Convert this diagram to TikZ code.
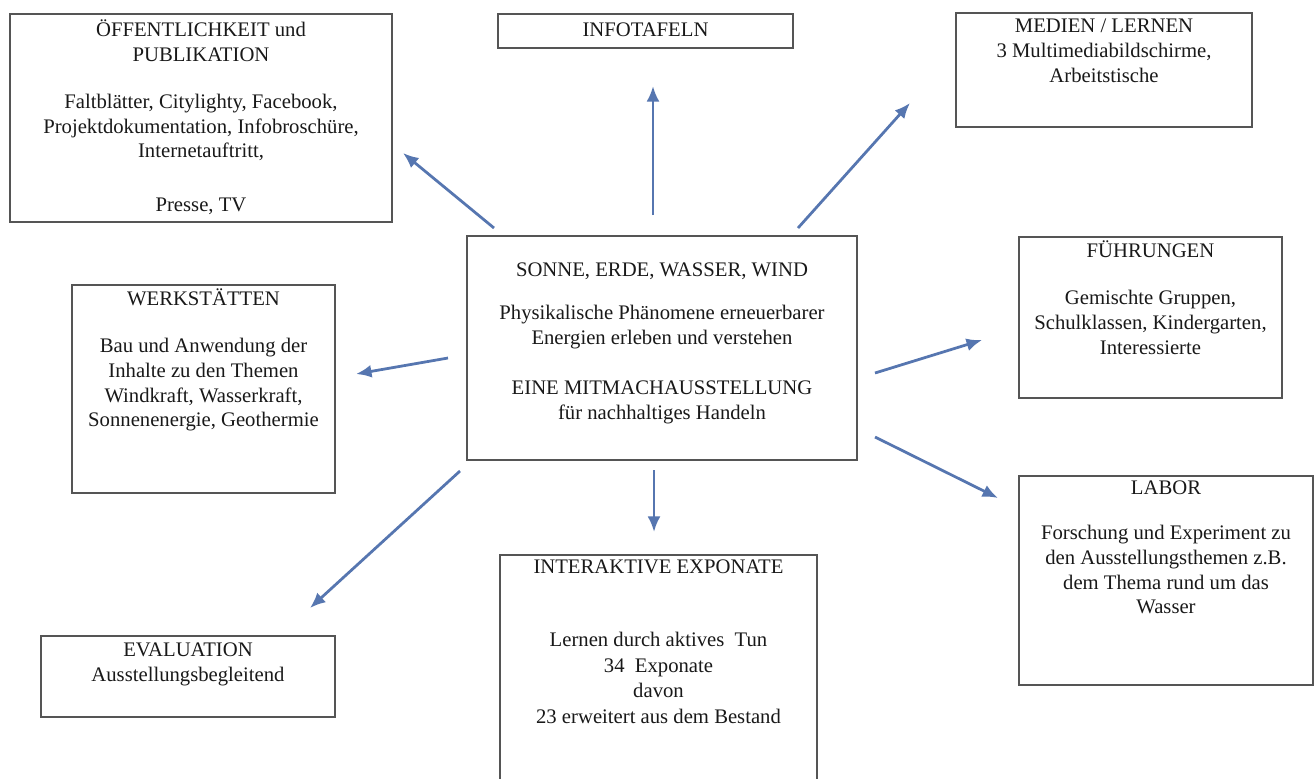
\documentclass[tikz,border=0pt]{standalone}
\usepackage{fontspec}
\setmainfont{Liberation Serif}
\usetikzlibrary{arrows.meta,fit}
\definecolor{arrowblue}{RGB}{86,118,176}
\definecolor{boxgray}{RGB}{85,85,85}
\definecolor{txt}{RGB}{25,25,25}
\begin{document}
\begin{tikzpicture}[x=0.58pt,y=-0.58pt,
  box/.style={draw=boxgray, line width=0.75pt, rectangle, inner sep=0pt},
  tb/.style={align=center, anchor=north, inner sep=0pt, text=txt,
    font=\fontsize{12}{14.3}\selectfont, execute at begin node={\rule{0pt}{10pt}}},
  conn/.style={draw=arrowblue, line width=1.6pt, -{Latex[length=9pt,width=7.5pt]}}]
\fill[white] (0,0) rectangle (1316,778);
\useasboundingbox (0,0) rectangle (1316,778);

% boxes
\node[box, fit={(10,14) (392,222)}] (oef) {};
\node[box, fit={(498,14) (793,48)}] (info) {};
\node[box, fit={(956,13) (1252,127)}] (med) {};
\node[box, fit={(467,236) (857,460)}] (ctr) {};
\node[box, fit={(72,285) (335,493)}] (werk) {};
\node[box, fit={(1019,237) (1282,398)}] (fuehr) {};
\node[box, fit={(1019,476) (1313,685)}] (labor) {};
\node[box, fit={(41,636) (335,717)}] (eval) {};
\node[box, fit={(500,555) (817,810)}] (inter) {};

% texts
\node[tb] (toef) at (201,19.8) {ÖFFENTLICHKEIT und\\PUBLIKATION\\[12.9pt]
  Faltblätter, Citylighty, Facebook,\\Projektdokumentation, Infobroschüre,\\Internetauftritt,\\[17pt]Presse, TV};
\node[tb] (tinfo) at (645.5,18.8) {INFOTAFELN};
\node[tb] (tmed) at (1104,18.8) {MEDIEN / LERNEN\\3 Multimediabildschirme,\\Arbeitstische};
\node[tb] (tctr) at (662,262.8) {SONNE, ERDE, WASSER, WIND\\[10.6pt]
  Physikalische Phänomene erneuerbarer\\Energien erleben und verstehen\\[14.7pt]
  EINE MITMACHAUSSTELLUNG\\für nachhaltiges Handeln};
\node[tb] (twerk) at (203.5,288.8) {WERKSTÄTTEN\\[12.9pt]Bau und Anwendung der\\Inhalte zu den Themen\\Windkraft, Wasserkraft,\\Sonnenenergie, Geothermie};
\node[tb] (tfuehr) at (1150.5,240.8) {FÜHRUNGEN\\[12.9pt]Gemischte Gruppen,\\Schulklassen, Kindergarten,\\Interessierte};
\node[tb] (tlabor) at (1166,480.8) {LABOR\\[11.8pt]Forschung und Experiment zu\\den Ausstellungsthemen z.B.\\dem Thema rund um das\\Wasser};
\node[tb] (teval) at (188,642.8) {EVALUATION\\Ausstellungsbegleitend};
\node[tb] (tinter) at (658.5,559.8) {INTERAKTIVE EXPONATE\\[28pt]Lernen durch aktives\ \ Tun\\[0.5pt]34\ \ Exponate\\[0.5pt]davon\\[0.5pt]23 erweitert aus dem Bestand};

% connector end points
\coordinate (s1) at (494,228); \coordinate (e1) at (403,153);
\coordinate (s2) at (653,215); \coordinate (e2) at (653,86);
\coordinate (s3) at (798,228); \coordinate (e3) at (910,103);
\coordinate (s4) at (448,358); \coordinate (e4) at (356,374);
\coordinate (s5) at (875,373); \coordinate (e5) at (982,340);
\coordinate (s6) at (875,437); \coordinate (e6) at (998,498);
\coordinate (s7) at (654,470); \coordinate (e7) at (654,532);
\coordinate (s8) at (460,471); \coordinate (e8) at (310,608);

\draw[conn] (s1) -- (e1);
\draw[conn] (s2) -- (e2);
\draw[conn] (s3) -- (e3);
\draw[conn] (s4) -- (e4);
\draw[conn] (s5) -- (e5);
\draw[conn] (s6) -- (e6);
\draw[conn] (s7) -- (e7);
\draw[conn] (s8) -- (e8);
\end{tikzpicture}
\end{document}
